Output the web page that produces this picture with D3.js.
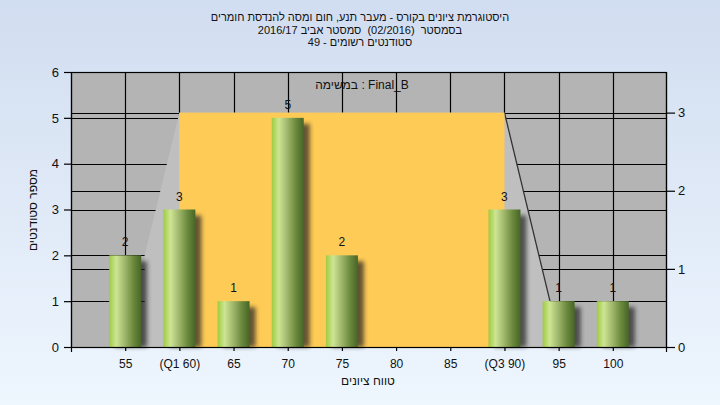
<!DOCTYPE html>
<html><head><meta charset="utf-8">
<script src="https://cdn.jsdelivr.net/npm/d3@7"></script>
<style>
html,body{margin:0;padding:0;}
body{width:720px;height:405px;overflow:hidden;}
text{font-family:"Liberation Sans",Arial,"DejaVu Sans",sans-serif;fill:#111;}
</style></head>
<body>
<svg id="chart" width="720" height="405"></svg>
<script>
// ---- data ----
const categories = [55, 60, 65, 70, 75, 80, 85, 90, 95, 100];
const tickLabels = ["55", "(Q1 60)", "65", "70", "75", "80", "85", "(Q3 90)", "95", "100"];
const counts = [2, 3, 1, 5, 2, 0, 0, 3, 1, 1];
const leftTicks = [0, 1, 2, 3, 4, 5, 6];
const rightTicks = [0, 1, 2, 3];
const quartiles = [60, 90];          // Q1, Q3 (box edges)
const boxTop = 3;                     // on right axis
const whiskerX = [56.8, 94.2];        // whisker end positions (x)
const whiskerY = [2, 1];              // whisker end heights (left axis)
const titleLines = [
  "היסטוגרמת ציונים בקורס - מעבר תנע, חום ומסה להנדסת חומרים",
  "בסמסטר  (02/2016)  סמסטר אביב 2016/17",
  "סטודנטים רשומים - 49"
];
const legendText = "במשימה : Final_B";
const xTitle = "טווח ציונים";
const yTitle = "מספר סטודנטים";

// ---- layout ----
const L = 71, R = 667, T = 72, B = 347;
const svg = d3.select("#chart");
const defs = svg.append("defs");

const bg = defs.append("linearGradient").attr("id","bg").attr("x1",0).attr("y1",0).attr("x2",0).attr("y2",1);
bg.append("stop").attr("offset","0%").attr("stop-color","#d1ddf0");
bg.append("stop").attr("offset","100%").attr("stop-color","#eef6fe");

const bar = defs.append("linearGradient").attr("id","bar").attr("x1",0).attr("y1",0).attr("x2",1).attr("y2",0);
[["0%","#9fcb40"],["22%","#cde593"],["45%","#a6bd72"],["75%","#6c8a3d"],["100%","#476526"]]
  .forEach(([o,c]) => bar.append("stop").attr("offset",o).attr("stop-color",c));

const blur = defs.append("filter").attr("id","blur").attr("x","-50%").attr("y","-50%").attr("width","200%").attr("height","200%");
blur.append("feGaussianBlur").attr("stdDeviation",2);

svg.append("rect").attr("width",720).attr("height",405).attr("fill","url(#bg)");

const x = d3.scaleLinear().domain([50, 105]).range([L, R]);
const y = d3.scaleLinear().domain([0, 6]).range([B, T]);
const y2 = d3.scaleLinear().domain([0, 3.52]).range([B, T]);

// plot area
svg.append("rect").attr("x",L).attr("y",T).attr("width",R-L).attr("height",B-T).attr("fill","#b4b4b4");

// grid
const grid = svg.append("g").attr("stroke","#000").attr("stroke-width",1.2);
grid.selectAll(".hl").data(leftTicks.slice(1)).join("line")
  .attr("x1",L).attr("x2",R).attr("y1",d=>Math.round(y(d))+0.5).attr("y2",d=>Math.round(y(d))+0.5);
grid.selectAll(".hr").data(rightTicks.slice(1)).join("line").attr("class","hr")
  .attr("x1",L).attr("x2",R).attr("y1",d=>Math.round(y2(d))+0.5).attr("y2",d=>Math.round(y2(d))+0.5);
grid.selectAll(".v").data(categories).join("line").attr("class","v")
  .attr("y1",T).attr("y2",B).attr("x1",d=>Math.round(x(d))+0.5).attr("x2",d=>Math.round(x(d))+0.5);

// whisker polygon
const poly = [
  [x(whiskerX[0]), y(0)], [x(whiskerX[0]), y(whiskerY[0])], [x(quartiles[0]), y2(boxTop)],
  [x(quartiles[1]), y2(boxTop)], [x(whiskerX[1]), y(whiskerY[1])], [x(whiskerX[1]), y(0)]
];
svg.append("polygon").attr("points", poly.map(p=>p.join(",")).join(" ")).attr("fill","#bfbfbf");
svg.append("line").attr("x1",x(quartiles[1])).attr("y1",y2(boxTop)).attr("x2",x(whiskerX[1])).attr("y2",y(whiskerY[1]))
  .attr("stroke","#333").attr("stroke-width",1.3);
// box
svg.append("rect").attr("x",x(quartiles[0])).attr("y",y2(boxTop))
  .attr("width",x(quartiles[1])-x(quartiles[0])).attr("height",B-y2(boxTop)).attr("fill","#fecb57");

// bars
const bw = 32;
const data = categories.map((c,i)=>({c, v:counts[i]})).filter(d=>d.v>0);
svg.append("g").selectAll("rect").data(data).join("rect")
  .attr("x",d=>x(d.c)-bw/2+6).attr("y",d=>y(d.v)+6).attr("width",bw).attr("height",d=>B-y(d.v)-6)
  .attr("fill","#222").attr("opacity",0.7).attr("filter","url(#blur)");
svg.append("g").selectAll("rect").data(data).join("rect")
  .attr("x",d=>x(d.c)-bw/2).attr("y",d=>y(d.v)).attr("width",bw).attr("height",d=>B-y(d.v))
  .attr("fill","url(#bar)");
svg.append("g").selectAll("text").data(data).join("text")
  .attr("x",d=>x(d.c)).attr("y",d=>y(d.v)-9).attr("text-anchor","middle").attr("font-size",12)
  .text(d=>d.v);

// frame
svg.append("rect").attr("x",L+0.5).attr("y",T+0.5).attr("width",R-L-1).attr("height",B-T)
  .attr("fill","none").attr("stroke","#000").attr("stroke-width",1.2);

// axes
const ax = svg.append("g").attr("transform",`translate(${L},0)`)
  .call(d3.axisLeft(y).tickValues(leftTicks).tickSize(7).tickPadding(5).tickFormat(d3.format("d")));
const ax2 = svg.append("g").attr("transform",`translate(${R},0)`)
  .call(d3.axisRight(y2).tickValues(rightTicks).tickSize(8).tickPadding(3).tickFormat(d3.format("d")));
const axb = svg.append("g").attr("transform",`translate(0,${B})`)
  .call(d3.axisBottom(x).tickValues(categories).tickSize(4).tickPadding(8).tickFormat((d,i)=>tickLabels[i]));
[ax,ax2,axb].forEach(g=>{
  g.select(".domain").remove();
  g.selectAll("line").attr("stroke","#000").attr("stroke-width",1.2);
  g.selectAll("text").attr("font-size",13).attr("fill","#111").attr("font-family","'Liberation Sans',Arial,sans-serif");
});
axb.selectAll("text").attr("font-size",12);
svg.append("line").attr("x1",L+0.5).attr("x2",L+0.5).attr("y1",T).attr("y2",B+5).attr("stroke","#000").attr("stroke-width",1.2);
svg.append("line").attr("x1",R-0.5).attr("x2",R-0.5).attr("y1",T).attr("y2",B+5).attr("stroke","#000").attr("stroke-width",1.2);
svg.append("line").attr("x1",L-7).attr("x2",R).attr("y1",B+0.5).attr("y2",B+0.5).attr("stroke","#000").attr("stroke-width",1.2);

// titles
svg.append("g").selectAll("text").data(titleLines).join("text")
  .attr("x",360).attr("y",(d,i)=>21+i*12.7).attr("text-anchor","middle").attr("direction","rtl")
  .attr("font-size",11).style("white-space","pre").style("unicode-bidi","embed").text(d=>d);
svg.append("text").attr("x",362).attr("y",89).attr("text-anchor","middle").attr("font-size",12).text(legendText);
svg.append("text").attr("x",368).attr("y",385).attr("text-anchor","middle").attr("font-size",12)
  .attr("direction","rtl").text(xTitle);
svg.append("text").attr("transform","translate(37,210) rotate(-90)").attr("text-anchor","middle").attr("font-size",12)
  .attr("direction","rtl").text(yTitle);
</script>
</body></html>
